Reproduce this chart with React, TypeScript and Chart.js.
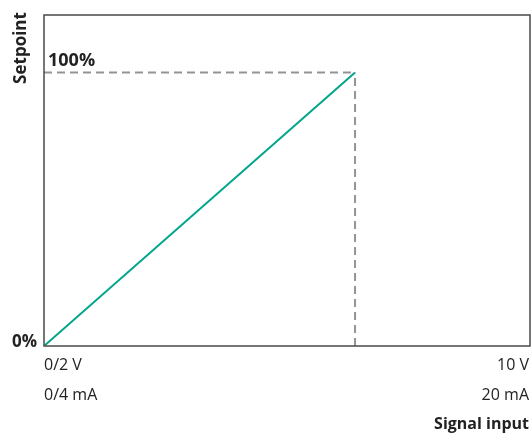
import React, { useEffect, useRef } from "react";
import { Chart, registerables } from "chart.js";

Chart.register(...registerables);

// Data
const signalRange = [0, 10]; // V
const setpointRange = [0, 121]; // % (axis extent)
const setpointLine = [
  { x: 0, y: 0 },
  { x: 6.4, y: 100 },
];
const guideH = [
  { x: 0, y: 100 },
  { x: 6.4, y: 100 },
];
const guideV = [
  { x: 6.4, y: 0 },
  { x: 6.4, y: 100 },
];
const xTickLabelsLeft = ["0/2 V", "0/4 mA"];
const xTickLabelsRight = ["10 V", "20 mA"];
const yLabelTop = "100%";
const yLabelBottom = "0%";
const xTitle = "Signal input";
const yTitle = "Setpoint";

const FONT = "'Open Sans', 'Noto Sans', sans-serif";

const framePlugin = {
  id: "frameText",
  afterDraw(chart: any) {
    const { ctx, chartArea, scales } = chart;
    const { left, top, right, bottom } = chartArea;
    const xs = scales.x;
    const ys = scales.y;
    ctx.save();
    // frame
    ctx.strokeStyle = "#4a4a4a";
    ctx.lineWidth = 1.5;
    ctx.strokeRect(left, top, right - left, bottom - top);

    ctx.fillStyle = "#222";
    // x tick labels
    ctx.font = `16px ${FONT}`;
    ctx.textBaseline = "middle";
    const x0 = xs.getPixelForValue(signalRange[0]);
    const x1 = xs.getPixelForValue(signalRange[1]);
    ctx.textAlign = "left";
    xTickLabelsLeft.forEach((t, i) => ctx.fillText(t, x0, bottom + 19 + i * 30));
    ctx.textAlign = "right";
    xTickLabelsRight.forEach((t, i) => ctx.fillText(t, x1 - 1, bottom + 19 + i * 30));

    // x title
    ctx.font = `bold 16px ${FONT}`;
    ctx.textAlign = "right";
    ctx.fillText(xTitle, x1 - 1, bottom + 78);

    // y labels
    ctx.font = `bold 18px ${FONT}`;
    ctx.textAlign = "left";
    ctx.fillText(yLabelTop, left + 4, ys.getPixelForValue(100) - 12);
    ctx.font = `bold 17px ${FONT}`;
    ctx.textAlign = "right";
    ctx.fillText(yLabelBottom, left - 7, ys.getPixelForValue(0) - 4);

    // y title
    ctx.font = `bold 17px ${FONT}`;
    ctx.save();
    ctx.translate(21, top + 33);
    ctx.rotate(-Math.PI / 2);
    ctx.textAlign = "center";
    ctx.fillText(yTitle, 0, 0);
    ctx.restore();

    ctx.restore();
  },
};

export default function App() {
  const ref = useRef<HTMLCanvasElement | null>(null);
  useEffect(() => {
    if (!ref.current) return;
    const chart = new Chart(ref.current, {
      type: "scatter",
      data: {
        datasets: [
          {
            data: guideH,
            showLine: true,
            borderColor: "#939393",
            borderWidth: 2,
            borderDash: [8, 5],
            pointRadius: 0,
          },
          {
            data: guideV,
            showLine: true,
            borderColor: "#939393",
            borderWidth: 2,
            borderDash: [8, 5],
            pointRadius: 0,
          },
          {
            data: setpointLine,
            showLine: true,
            borderColor: "#00a58a",
            borderWidth: 2,
            pointRadius: 0,
          },
        ],
      },
      options: {
        animation: false,
        responsive: false,
        maintainAspectRatio: false,
        layout: { padding: { left: 44, top: 15, right: 1, bottom: 91 } },
        plugins: { legend: { display: false }, tooltip: { enabled: false } },
        scales: {
          x: { type: "linear", min: signalRange[0], max: signalRange[1], display: false },
          y: { type: "linear", min: setpointRange[0], max: setpointRange[1], display: false },
        },
      },
      plugins: [framePlugin],
    });
    return () => chart.destroy();
  }, []);
  return (
    <div style={{ position: "fixed", left: 0, top: 0, width: 531, height: 437, background: "#fff" }}>
      <canvas ref={ref} width={531} height={437} style={{ width: 531, height: 437 }} />
    </div>
  );
}
